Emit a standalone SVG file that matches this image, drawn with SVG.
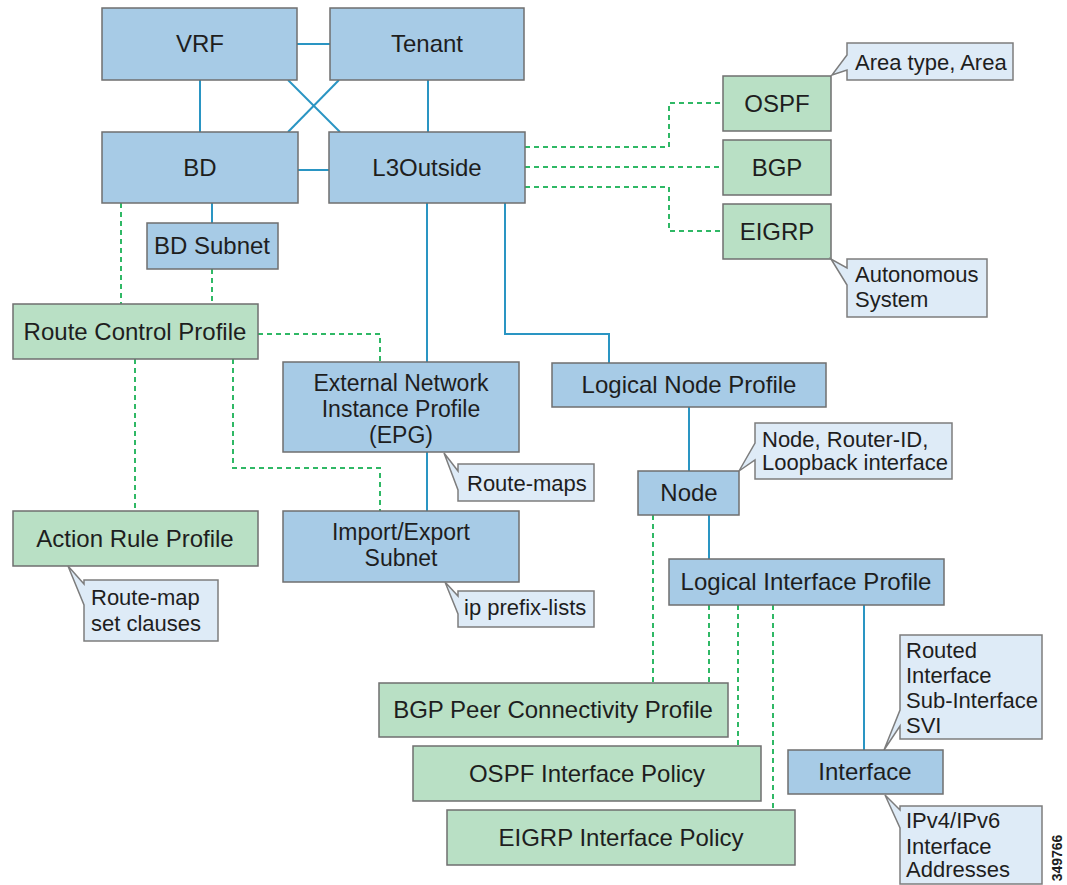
<svg xmlns="http://www.w3.org/2000/svg" width="1067" height="885" viewBox="0 0 1067 885">
<style>
.blue{fill:#a7cbe6;stroke:#6f6f6f;stroke-width:1.5}
.green{fill:#b9e0c5;stroke:#6f6f6f;stroke-width:1.5}
.call{fill:#deebf7;stroke:#7d7d7d;stroke-width:1.5}
.t{font-family:"Liberation Sans",Arial,sans-serif;font-size:24px;fill:#1e1e1e;text-anchor:middle}
.m{font-size:23px}
.c{font-family:"Liberation Sans",Arial,sans-serif;font-size:22px;fill:#1e1e1e}
.solid{stroke:#2a95c3;stroke-width:2;fill:none}
.dash{stroke:#2fb865;stroke-width:2;stroke-dasharray:5 4;fill:none}
</style>
<rect width="1067" height="885" fill="#ffffff"/>
<g id="connectors">
<path class="solid" d="M297,44 H330"/>
<path class="solid" d="M200,80 V132"/>
<path class="solid" d="M428,80 V132"/>
<path class="solid" d="M288,80 L340,132"/>
<path class="solid" d="M339,80 L288,132"/>
<path class="solid" d="M298,170 H329"/>
<path class="solid" d="M212,203 V223"/>
<path class="solid" d="M427,203 V362"/>
<path class="solid" d="M505,203 V334 H609 V363"/>
<path class="solid" d="M427,452 V511"/>
<path class="solid" d="M689,407 V471"/>
<path class="solid" d="M709,515 V559"/>
<path class="solid" d="M864,605 V750"/>
<path class="dash" d="M121,203 V304"/>
<path class="dash" d="M212,269 V304"/>
<path class="dash" d="M258,334 H380 V362"/>
<path class="dash" d="M135,359 V511"/>
<path class="dash" d="M233,359 V468 H380 V511"/>
<path class="dash" d="M525,147 H669 V103 H723"/>
<path class="dash" d="M525,167 H723"/>
<path class="dash" d="M525,187 H669 V231 H723"/>
<path class="dash" d="M653,515 V683"/>
<path class="dash" d="M709,605 V683"/>
<path class="dash" d="M738,605 V746"/>
<path class="dash" d="M773,605 V810"/>
</g>
<g id="vrf"><rect class="blue" x="102" y="8" width="195" height="72"/><text class="t" x="200" y="52">VRF</text></g>
<g id="tenant"><rect class="blue" x="330" y="8" width="194" height="72"/><text class="t" x="427" y="52">Tenant</text></g>
<g id="bd"><rect class="blue" x="102" y="132" width="196" height="71"/><text class="t" x="200" y="176">BD</text></g>
<g id="l3outside"><rect class="blue" x="329" y="132" width="196" height="71"/><text class="t" x="427" y="176">L3Outside</text></g>
<g id="bdsubnet"><rect class="blue" x="147" y="223" width="131" height="46"/><text class="t" x="212" y="254">BD Subnet</text></g>
<g id="ospf"><rect class="green" x="723" y="76" width="108" height="55"/><text class="t" x="777" y="112">OSPF</text></g>
<g id="bgp"><rect class="green" x="723" y="140" width="108" height="55"/><text class="t" x="777" y="176">BGP</text></g>
<g id="eigrp"><rect class="green" x="723" y="204" width="108" height="55"/><text class="t" x="777" y="240">EIGRP</text></g>
<g id="area-callout"><path class="call" d="M847,43 H1013 V80 H847 V70 L832,75 L847,55 Z"/><text class="c" x="855" y="70">Area type, Area</text></g>
<g id="as-callout"><path class="call" d="M847,259 H987 V317 H847 V285 L831,259 L847,268 Z"/><text class="c" x="855" y="282">Autonomous</text><text class="c" x="855" y="307">System</text></g>
<g id="routecontrol"><rect class="green" x="13" y="304" width="245" height="55"/><text class="t" x="135" y="340">Route Control Profile</text></g>
<g id="epg"><rect class="blue" x="283" y="362" width="236" height="90"/><text class="t m" x="401" y="391">External Network</text><text class="t m" x="401" y="417">Instance Profile</text><text class="t m" x="401" y="443">(EPG)</text></g>
<g id="lnp"><rect class="blue" x="552" y="363" width="274" height="44"/><text class="t" x="689" y="393">Logical Node Profile</text></g>
<g id="routemaps-callout"><path class="call" d="M458,464 H594 V501 H458 V490 L444,453 L458,471 Z"/><text class="c" x="467" y="491">Route-maps</text></g>
<g id="node"><rect class="blue" x="638" y="471" width="101" height="44"/><text class="t" x="689" y="501">Node</text></g>
<g id="node-callout"><path class="call" d="M755,423 H952 V479 H755 V460 L739,471 L755,443 Z"/><text class="c" x="762" y="447">Node, Router-ID,</text><text class="c" x="762" y="470">Loopback interface</text></g>
<g id="actionrule"><rect class="green" x="13" y="511" width="245" height="55"/><text class="t" x="135" y="547">Action Rule Profile</text></g>
<g id="importexport"><rect class="blue" x="283" y="511" width="236" height="71"/><text class="t m" x="401" y="540">Import/Export</text><text class="t m" x="401" y="566">Subnet</text></g>
<g id="setclauses-callout"><path class="call" d="M84,580 H218 V641 H84 V605 L68,566 L84,584 Z"/><text class="c" x="91" y="605">Route-map</text><text class="c" x="91" y="631">set clauses</text></g>
<g id="prefix-callout"><path class="call" d="M458,591 H594 V627 H458 V614 L445,582 L458,596 Z"/><text class="c" x="464" y="615">ip prefix-lists</text></g>
<g id="lip"><rect class="blue" x="669" y="559" width="275" height="46"/><text class="t" x="806" y="590">Logical Interface Profile</text></g>
<g id="routed-callout"><path class="call" d="M900,635 H1042 V739 H900 V726 L884,750 L900,710 Z"/><text class="c" x="906" y="658">Routed</text><text class="c" x="906" y="683">Interface</text><text class="c" x="906" y="708">Sub-Interface</text><text class="c" x="906" y="733">SVI</text></g>
<g id="bgppeer"><rect class="green" x="379" y="683" width="349" height="54"/><text class="t" x="553" y="718">BGP Peer Connectivity Profile</text></g>
<g id="ospfif"><rect class="green" x="413" y="746" width="348" height="55"/><text class="t" x="587" y="782">OSPF Interface Policy</text></g>
<g id="eigrpif"><rect class="green" x="447" y="810" width="348" height="55"/><text class="t" x="621" y="846">EIGRP Interface Policy</text></g>
<g id="interface"><rect class="blue" x="788" y="750" width="155" height="44"/><text class="t" x="865" y="780">Interface</text></g>
<g id="addr-callout"><path class="call" d="M900,806 H1042 V884 H900 V828 L885,795 L900,810 Z"/><text class="c" x="906" y="828">IPv4/IPv6</text><text class="c" x="906" y="854">Interface</text><text class="c" x="906" y="877">Addresses</text></g>
<text x="1062" y="858" transform="rotate(-90 1062 858)" text-anchor="middle" font-family="Liberation Sans,Arial,sans-serif" font-size="14" font-weight="bold" fill="#1e1e1e">349766</text>
</svg>
